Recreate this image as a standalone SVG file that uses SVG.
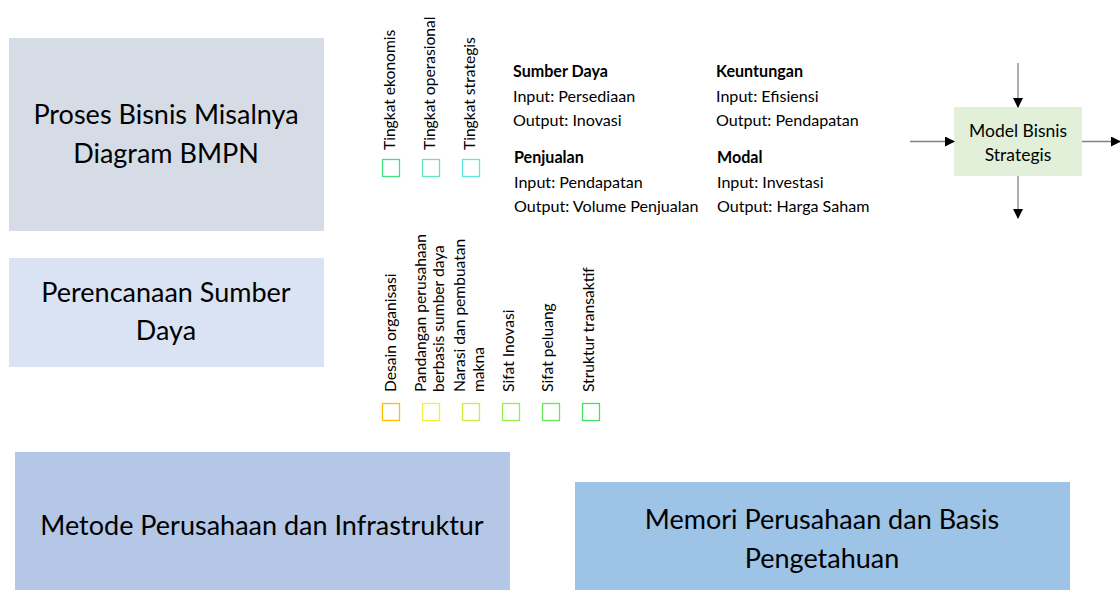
<svg xmlns="http://www.w3.org/2000/svg" width="1120" height="590" viewBox="0 0 1120 590">
<style>
.t{font-family:Lato,"Open Sans",sans-serif;fill:#000}
.big{font-size:27px}
.sm{font-size:16.1px}
.rt{font-size:15.6px}
.md{font-size:17.5px}
.b{font-weight:bold}
.cb{fill:#fff;stroke-width:1.3}
.ln{stroke:#808080;stroke-width:1.3;fill:none}
</style>
<defs>
<marker id="ah" markerWidth="10" markerHeight="10" refX="9" refY="5" orient="auto" markerUnits="userSpaceOnUse">
<path d="M0,0 L10,5 L0,10 Z" fill="#000"/>
</marker>
</defs>
<rect width="1120" height="590" fill="#fff"/>
<g id="proses">
<rect x="9" y="38" width="315" height="193" fill="#d6dce5"/>
<text class="t big" text-anchor="middle" x="166" y="124">Proses Bisnis Misalnya</text>
<text class="t big" text-anchor="middle" x="166" y="163">Diagram BMPN</text>
</g>
<g id="perencanaan">
<rect x="9" y="258" width="315" height="109" fill="#dae3f3"/>
<text class="t big" text-anchor="middle" x="166" y="302">Perencanaan Sumber</text>
<text class="t big" text-anchor="middle" x="166" y="340">Daya</text>
</g>
<g id="metode">
<rect x="15" y="452" width="495" height="138" fill="#b4c7e7"/>
<text class="t big" text-anchor="middle" x="262" y="535">Metode Perusahaan dan Infrastruktur</text>
</g>
<g id="memori">
<rect x="575" y="482" width="495" height="108" fill="#9dc3e6"/>
<text class="t big" text-anchor="middle" x="822" y="529">Memori Perusahaan dan Basis</text>
<text class="t big" text-anchor="middle" x="822" y="568">Pengetahuan</text>
</g>
<g id="tingkat">
<text class="t rt" transform="translate(395,150) rotate(-90)">Tingkat ekonomis</text>
<text class="t rt" transform="translate(435,150) rotate(-90)">Tingkat operasional</text>
<text class="t rt" transform="translate(475,150) rotate(-90)">Tingkat strategis</text>
<rect class="cb" x="382.5" y="159.5" width="17" height="17" stroke="#3ee27f"/>
<rect class="cb" x="422.5" y="159.5" width="17" height="17" stroke="#5ee8b8"/>
<rect class="cb" x="462.5" y="159.5" width="17" height="17" stroke="#5ee6e0"/>
</g>
<g id="sifat">
<text class="t rt" transform="translate(396,392) rotate(-90)">Desain organisasi</text>
<text class="t rt" transform="translate(426,392) rotate(-90)">Pandangan perusahaan</text>
<text class="t rt" transform="translate(444,392) rotate(-90)">berbasis sumber daya</text>
<text class="t rt" transform="translate(465,392) rotate(-90)">Narasi dan pembuatan</text>
<text class="t rt" transform="translate(484,392) rotate(-90)">makna</text>
<text class="t rt" transform="translate(514,392) rotate(-90)">Sifat Inovasi</text>
<text class="t rt" transform="translate(553,392) rotate(-90)">Sifat peluang</text>
<text class="t rt" transform="translate(594,392) rotate(-90)">Struktur transaktif</text>
<rect class="cb" x="382.5" y="403.5" width="17" height="17" stroke="#ffc000"/>
<rect class="cb" x="422.5" y="403.5" width="17" height="17" stroke="#f2f23c"/>
<rect class="cb" x="462.5" y="403.5" width="17" height="17" stroke="#c8f040"/>
<rect class="cb" x="502.5" y="403.5" width="17" height="17" stroke="#96ee4c"/>
<rect class="cb" x="542.5" y="403.5" width="17" height="17" stroke="#64e858"/>
<rect class="cb" x="582.5" y="403.5" width="17" height="17" stroke="#44e062"/>
</g>
<g id="sumberdaya">
<text class="t sm b" x="513" y="77">Sumber Daya</text>
<text class="t sm" x="513" y="102">Input: Persediaan</text>
<text class="t sm" x="513" y="126">Output: Inovasi</text>
</g>
<g id="penjualan">
<text class="t sm b" x="514" y="163">Penjualan</text>
<text class="t sm" x="514" y="188">Input: Pendapatan</text>
<text class="t sm" x="514" y="212">Output: Volume Penjualan</text>
</g>
<g id="keuntungan">
<text class="t sm b" x="716" y="77">Keuntungan</text>
<text class="t sm" x="716" y="102">Input: Efisiensi</text>
<text class="t sm" x="716" y="126">Output: Pendapatan</text>
</g>
<g id="modal">
<text class="t sm b" x="717" y="163">Modal</text>
<text class="t sm" x="717" y="188">Input: Investasi</text>
<text class="t sm" x="717" y="212">Output: Harga Saham</text>
</g>
<g id="model">
<rect x="954" y="107" width="128" height="69" fill="#e2f0d9"/>
<text class="t md" text-anchor="middle" x="1018" y="137">Model Bisnis</text>
<text class="t md" text-anchor="middle" x="1018" y="161">Strategis</text>
</g>
<g id="connectors">
<line class="ln" x1="1018" y1="63" x2="1018" y2="107" marker-end="url(#ah)"/>
<line class="ln" x1="910" y1="141.5" x2="954" y2="141.5" marker-end="url(#ah)"/>
<line class="ln" x1="1082" y1="141.5" x2="1120" y2="141.5" marker-end="url(#ah)"/>
<line class="ln" x1="1018" y1="176" x2="1018" y2="218" marker-end="url(#ah)"/>
</g>
</svg>
